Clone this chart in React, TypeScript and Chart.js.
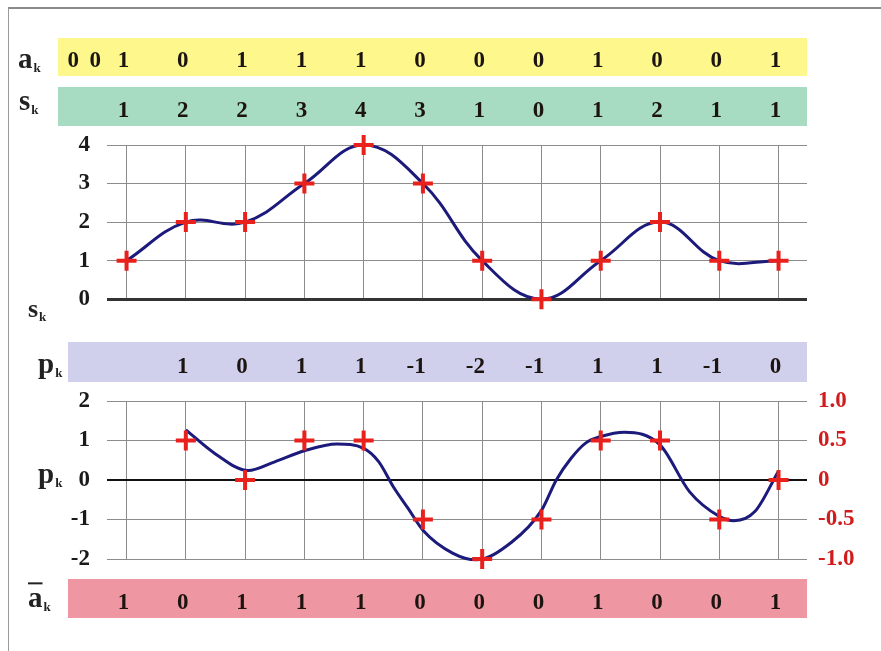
import React, { useEffect, useRef } from 'react';
import { Chart, registerables } from 'chart.js';

Chart.register(...registerables);

// ---- data ----
const columns = [0, 1, 2, 3, 4, 5, 6, 7, 8, 9, 10, 11];
const aPrefix = ['0', '0'];
const aBits = [1, 0, 1, 1, 1, 0, 0, 0, 1, 0, 0, 1];
const sValues = [1, 2, 2, 3, 4, 3, 1, 0, 1, 2, 1, 1];
const pColumns = [1, 2, 3, 4, 5, 6, 7, 8, 9, 10, 11];
const pValues = [1, 0, 1, 1, -1, -2, -1, 1, 1, -1, 0];
const aDecoded = [1, 0, 1, 1, 1, 0, 0, 0, 1, 0, 0, 1];
const sTicks = [0, 1, 2, 3, 4];
const pTicks = [-2, -1, 0, 1, 2];
const rTicks = [-1, -0.5, 0, 0.5, 1];
const filterX = [1, 1.5, 2.05, 2.5, 3, 3.55, 4, 4.25, 4.5, 4.75, 5, 5.5, 5.9, 6.5, 7, 7.25, 7.5, 7.75, 8, 8.4, 9, 9.5, 10, 10.25, 10.6, 11];
const filterY = [1.27, 0.66, 0.24, 0.46, 0.74, 0.91, 0.8, 0.47, -0.17, -0.72, -1.27, -1.85, -2.02, -1.57, -0.77, 0.0, 0.55, 0.94, 1.1, 1.21, 0.89, -0.3, -0.92, -1.03, -0.8, 0.23];

// ---- style ----
const SERIF = "'Liberation Serif', 'Times New Roman', serif";
const NAVY = '#1c1a7a';
const RED = '#e8211c';
const RED_TEXT = '#d01c1c';
const GRID = '#8c8c8c';
const INK = '#1c1410';

function drawNum(ctx: CanvasRenderingContext2D, text: string, cx: number, base: number) {
  const last = text.slice(-1);
  const w = ctx.measureText(last).width;
  ctx.textAlign = 'right';
  ctx.textBaseline = 'alphabetic';
  ctx.fillText(text, cx + w / 2, base);
}

function drawLabel(ctx: CanvasRenderingContext2D, main: string, x: number, base: number, size = 29, bar = false) {
  ctx.save();
  ctx.fillStyle = '#222';
  ctx.textAlign = 'left';
  ctx.textBaseline = 'alphabetic';
  ctx.font = `bold ${size}px ${SERIF}`;
  ctx.fillText(main, x, base);
  const w = ctx.measureText(main).width;
  if (bar) {
    ctx.fillRect(x, base - size * 0.85, w, 2);
  }
  ctx.font = `bold 13px ${SERIF}`;
  ctx.fillText('k', x + w + 1, base + 4);
  ctx.restore();
}

function drawBand(
  chart: any,
  top: number,
  bottom: number,
  left: number,
  color: string,
  values: (string | number)[],
  cols: number[],
) {
  const ctx = chart.ctx as CanvasRenderingContext2D;
  const xs = chart.scales.x;
  ctx.save();
  ctx.fillStyle = color;
  ctx.fillRect(left, top, chart.chartArea.right - left, bottom - top);
  ctx.fillStyle = INK;
  ctx.font = `bold 23px ${SERIF}`;
  values.forEach((v, i) => {
    drawNum(ctx, String(v), xs.getPixelForValue(cols[i]) - 3, bottom - 9.5);
  });
  ctx.restore();
}

const topBands = {
  id: 'topBands',
  afterDraw(chart: any) {
    const ctx = chart.ctx as CanvasRenderingContext2D;
    const xs = chart.scales.x;
    drawBand(chart, 38, 76, 58, '#fdf78c', aBits, columns);
    // leading bits before the first column
    ctx.save();
    ctx.fillStyle = INK;
    ctx.font = `bold 23px ${SERIF}`;
    aPrefix.forEach((v, i) => {
      drawNum(ctx, v, xs.getPixelForValue(-0.9 + i * 0.37), 76 - 9.5);
    });
    ctx.restore();
    drawBand(chart, 87, 126, 58, '#a8dcc2', sValues, columns);
    drawLabel(ctx, 'a', 18, 68);
    drawLabel(ctx, 's', 19, 110);
    drawLabel(ctx, 's', 28, 317, 26);
  },
};

const botBands = {
  id: 'botBands',
  afterDraw(chart: any) {
    const ctx = chart.ctx as CanvasRenderingContext2D;
    drawBand(chart, 12, 52, 68, '#d0d0ec', pValues, pColumns);
    drawBand(chart, 249, 288, 68, '#ee97a2', aDecoded, columns);
    drawLabel(ctx, 'p', 38, 43);
    drawLabel(ctx, 'p', 38, 153);
    drawLabel(ctx, 'a', 28, 277, 29, true);
  },
};

const xScale = () => ({
  type: 'linear' as const,
  min: -0.33,
  max: 11.48,
  afterBuildTicks: (s: any) => {
    s.ticks = columns.map((v) => ({ value: v }));
  },
  afterFit: (s: any) => {
    s.height = 0;
  },
  ticks: { display: false },
  grid: { color: GRID, lineWidth: 1, drawTicks: false },
  border: { display: false },
});

const tickFont = { family: SERIF, size: 23, weight: 'bold' as const };

const crossStyle = {
  showLine: false,
  pointStyle: 'cross' as const,
  pointRadius: 10,
  pointBorderWidth: 4,
  pointBorderColor: RED,
  borderColor: RED,
  order: 0,
  clip: false as any,
};

export default function App() {
  const topRef = useRef<HTMLCanvasElement>(null);
  const botRef = useRef<HTMLCanvasElement>(null);

  useEffect(() => {
    const c1 = new Chart(topRef.current!, {
      type: 'line',
      data: {
        datasets: [
          {
            data: columns.map((x, i) => ({ x, y: sValues[i] })),
            ...crossStyle,
          },
          {
            data: columns.map((x, i) => ({ x, y: sValues[i] })),
            borderColor: NAVY,
            borderWidth: 3,
            tension: 0.4,
            pointRadius: 0,
            order: 1,
            clip: false as any,
          },
        ],
      },
      options: {
        animation: false,
        responsive: false,
        events: [],
        layout: { padding: { top: 145, bottom: 27, left: 0, right: 74 }, autoPadding: false } as any,
        plugins: { legend: { display: false }, tooltip: { enabled: false } },
        scales: {
          x: xScale() as any,
          y: {
            min: 0,
            max: 4,
            afterBuildTicks: (s: any) => {
              s.ticks = sTicks.map((v) => ({ value: v }));
            },
            afterFit: (s: any) => {
              s.width = 107;
            },
            ticks: { font: tickFont, color: '#1a1a1a', padding: 17 },
            grid: {
              color: (c: any) => (c.tick && c.tick.value === 0 ? '#333' : GRID),
              lineWidth: (c: any) => (c.tick && c.tick.value === 0 ? 3 : 1),
              drawTicks: false,
            },
            border: { display: false },
          },
        },
      },
      plugins: [topBands],
    });

    const c2 = new Chart(botRef.current!, {
      type: 'line',
      data: {
        datasets: [
          {
            data: pColumns.map((x, i) => ({ x, y: pValues[i] })),
            ...crossStyle,
          },
          {
            data: filterX.map((x, i) => ({ x, y: filterY[i] })),
            borderColor: NAVY,
            borderWidth: 3,
            cubicInterpolationMode: 'monotone',
            pointRadius: 0,
            order: 1,
            clip: false as any,
          },
        ],
      },
      options: {
        animation: false,
        responsive: false,
        events: [],
        layout: { padding: { top: 71, bottom: 92, left: 0, right: 0 }, autoPadding: false } as any,
        plugins: { legend: { display: false }, tooltip: { enabled: false } },
        scales: {
          x: xScale() as any,
          y: {
            min: -2,
            max: 2,
            afterBuildTicks: (s: any) => {
              s.ticks = pTicks.map((v) => ({ value: v }));
            },
            afterFit: (s: any) => {
              s.width = 107;
            },
            ticks: { font: tickFont, color: '#1a1a1a', padding: 17 },
            grid: {
              color: (c: any) => (c.tick && c.tick.value === 0 ? '#111' : GRID),
              lineWidth: (c: any) => (c.tick && c.tick.value === 0 ? 2 : 1),
              drawTicks: false,
            },
            border: { display: false },
          },
          yR: {
            position: 'right',
            min: -1,
            max: 1,
            afterBuildTicks: (s: any) => {
              s.ticks = rTicks.map((v) => ({ value: v }));
            },
            afterFit: (s: any) => {
              s.width = 74;
            },
            ticks: {
              font: tickFont,
              color: RED_TEXT,
              padding: 11,
              callback: (v: any) => (Number(v) === 0 ? '0' : Number(v).toFixed(1)),
            },
            grid: { display: false, drawTicks: false },
            border: { display: false },
          },
        },
      },
      plugins: [botBands],
    });

    return () => {
      c1.destroy();
      c2.destroy();
    };
  }, []);

  return (
    <div
      style={{
        position: 'absolute',
        left: 0,
        top: 0,
        width: 881,
        height: 651,
        background: '#fff',
        overflow: 'hidden',
      }}
    >
      <div
        style={{
          position: 'absolute',
          left: 8,
          top: 7,
          width: 873,
          height: 644,
          borderLeft: '1px solid #9a9a9a',
          borderTop: '2px solid #8a8a8a',
        }}
      />
      <canvas ref={topRef} width={881} height={330} style={{ position: 'absolute', left: 0, top: 0 }} />
      <canvas ref={botRef} width={881} height={321} style={{ position: 'absolute', left: 0, top: 330 }} />
    </div>
  );
}
